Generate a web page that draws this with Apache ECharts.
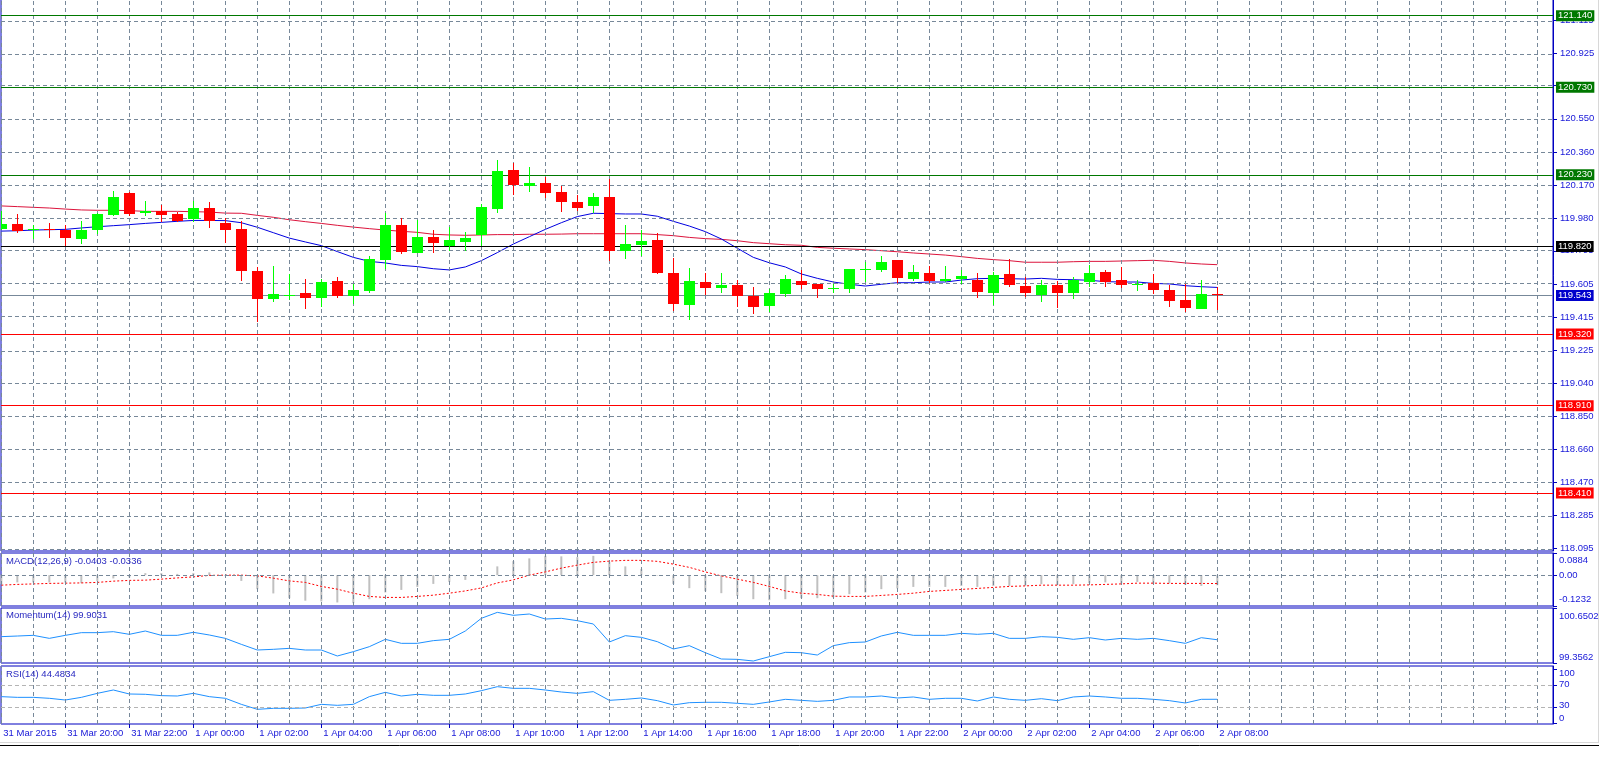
<!DOCTYPE html>
<html><head><meta charset="utf-8">
<script src="https://cdn.jsdelivr.net/npm/echarts@6/dist/echarts.min.js"></script>
<style>html,body{margin:0;padding:0;background:#fff}#c{width:1599px;height:771px}</style>
</head><body><div id="c"></div>
<script>
// M30 bars, bar index relative to 1 Apr 2015 00:00 (first bar = 31 Mar 18:00)
const firstBar = -12;
const opens  = [119.920,119.949,119.912,119.920,119.914,119.863,119.916,120.002,120.126,120.013,120.021,120.006,119.979,120.040,119.954,119.920,119.680,119.522,119.539,119.554,119.527,119.623,119.539,119.567,119.745,
119.943,119.783,119.874,119.823,119.846,119.886,120.034,120.257,120.166,120.183,120.132,120.074,120.053,120.103,119.794,119.829,119.857,119.668,119.487,119.617,119.585,119.600,119.539,119.482,119.550,
119.623,119.606,119.577,119.577,119.686,119.686,119.743,119.634,119.668,119.623,119.634,119.628,119.554,119.663,119.594,119.543,119.600,119.554,119.617,119.674,119.628,119.600,119.611,119.571,119.514,119.463,119.548];
const highs  = [120.023,120.006,119.941,119.954,119.941,119.966,120.010,120.137,120.130,120.080,120.057,120.017,120.080,120.074,119.983,119.966,119.703,119.708,119.663,119.634,119.634,119.646,119.606,119.766,120.010,
119.981,119.971,119.914,119.929,119.903,120.063,120.314,120.297,120.274,120.217,120.166,120.114,120.126,120.206,119.943,119.914,119.897,119.754,119.697,119.668,119.668,119.629,119.588,119.577,119.657,
119.686,119.608,119.606,119.693,119.731,119.766,119.745,119.714,119.708,119.708,119.686,119.668,119.674,119.748,119.646,119.628,119.623,119.646,119.714,119.686,119.703,119.628,119.663,119.600,119.606,119.628,119.590];
const lows   = [119.914,119.897,119.865,119.869,119.823,119.834,119.891,119.996,119.996,119.996,119.960,119.960,119.960,119.928,119.840,119.625,119.388,119.504,119.516,119.464,119.476,119.527,119.493,119.556,119.693,
119.775,119.780,119.783,119.796,119.794,119.823,120.013,120.114,120.132,120.097,120.017,120.023,120.011,119.737,119.748,119.766,119.663,119.453,119.400,119.543,119.554,119.476,119.436,119.447,119.533,
119.577,119.526,119.554,119.554,119.617,119.674,119.611,119.623,119.611,119.617,119.606,119.526,119.486,119.588,119.531,119.503,119.468,119.520,119.588,119.588,119.583,119.566,119.548,119.474,119.445,119.461,119.457];
const closes = [119.948,119.907,119.920,119.912,119.868,119.914,120.006,120.103,120.008,120.021,120.002,119.968,120.040,119.964,119.914,119.682,119.522,119.548,119.542,119.527,119.617,119.539,119.571,119.748,119.943,
119.790,119.874,119.840,119.857,119.869,120.046,120.252,120.172,120.183,120.126,120.074,120.040,120.103,119.794,119.834,119.851,119.668,119.493,119.623,119.585,119.602,119.539,119.476,119.554,119.634,
119.600,119.577,119.583,119.691,119.690,119.731,119.640,119.674,119.623,119.634,119.651,119.560,119.657,119.600,119.554,119.600,119.554,119.628,119.668,119.617,119.600,119.606,119.571,119.508,119.468,119.548,119.543];
const maFast = [119.908,119.910,119.914,119.916,119.918,119.926,119.933,119.939,119.945,119.952,119.958,119.964,119.969,119.969,119.968,119.956,119.930,119.899,119.868,119.846,119.825,119.791,119.758,119.735,119.726,
119.712,119.705,119.693,119.686,119.703,119.739,119.785,119.834,119.876,119.918,119.956,119.991,120.010,120.008,120.006,120.006,119.993,119.964,119.937,119.905,119.863,119.810,119.758,119.727,119.703,
119.663,119.638,119.617,119.604,119.594,119.604,119.613,119.613,119.617,119.617,119.628,119.636,119.638,119.636,119.634,119.638,119.632,119.630,119.627,119.619,119.617,119.617,119.609,119.606,119.596,119.590,119.586];
const maSlow = [120.052,120.048,120.044,120.040,120.034,120.029,120.027,120.027,120.025,120.021,120.021,120.021,120.019,120.017,120.011,120.010,119.998,119.987,119.973,119.962,119.952,119.941,119.931,119.922,119.914,
119.907,119.901,119.890,119.886,119.884,119.886,119.888,119.888,119.890,119.890,119.891,119.893,119.893,119.893,119.893,119.893,119.888,119.882,119.872,119.865,119.861,119.853,119.842,119.836,119.830,
119.827,119.815,119.810,119.806,119.802,119.796,119.790,119.783,119.777,119.771,119.762,119.752,119.745,119.739,119.730,119.730,119.730,119.733,119.735,119.735,119.737,119.739,119.741,119.735,119.726,119.720,119.716];
const macdMain = [-0.036,-0.029,-0.029,-0.029,-0.029,-0.032,-0.023,-0.013,-0.009,0.008,0.008,0.005,0.008,0.011,-0.003,-0.023,-0.056,-0.073,-0.092,-0.102,-0.105,-0.109,-0.112,-0.096,-0.069,
-0.059,-0.047,-0.035,-0.027,-0.019,-0.002,0.035,0.056,0.067,0.077,0.075,0.072,0.077,0.053,0.035,0.024,-0.002,-0.035,-0.052,-0.064,-0.072,-0.083,-0.096,-0.100,-0.096,
-0.092,-0.092,-0.089,-0.076,-0.069,-0.056,-0.053,-0.047,-0.047,-0.047,-0.043,-0.047,-0.043,-0.043,-0.043,-0.036,-0.040,-0.036,-0.032,-0.029,-0.032,-0.027,-0.033,-0.033,-0.039,-0.043,-0.0403];
const macdSignal = [-0.040,-0.037,-0.035,-0.033,-0.032,-0.031,-0.029,-0.024,-0.021,-0.020,-0.016,-0.011,-0.007,-0.001,0.000,0.000,-0.003,-0.012,-0.023,-0.029,-0.045,-0.056,-0.072,-0.085,-0.089,
-0.089,-0.085,-0.080,-0.072,-0.063,-0.051,-0.031,-0.019,0.000,0.013,0.028,0.040,0.051,0.056,0.059,0.059,0.055,0.044,0.031,0.013,-0.003,-0.016,-0.029,-0.045,-0.063,
-0.072,-0.077,-0.084,-0.085,-0.085,-0.081,-0.077,-0.072,-0.065,-0.061,-0.057,-0.053,-0.049,-0.045,-0.043,-0.040,-0.040,-0.040,-0.039,-0.037,-0.035,-0.032,-0.032,-0.033,-0.033,-0.033,-0.0336];
const momentum = [99.976,99.991,100.007,99.936,100.007,100.070,100.070,100.093,100.031,100.109,100.007,100.007,100.078,100.015,99.936,99.795,99.662,99.678,99.701,99.662,99.662,99.521,99.623,99.740,99.913,
99.819,99.819,99.882,99.913,100.109,100.407,100.548,100.478,100.509,100.391,100.407,100.352,100.274,99.850,99.999,99.960,99.858,99.686,99.764,99.599,99.450,99.442,99.403,99.505,99.607,
99.599,99.544,99.764,99.835,99.850,99.992,100.078,100.007,100.007,100.007,100.054,100.031,100.054,99.936,99.936,99.976,99.960,99.913,99.952,99.897,99.936,99.913,99.936,99.882,99.819,99.952,99.9031];
const rsi = [49.4,48.1,48.1,46.3,43.1,48.1,55.6,61.9,54.4,53.8,51.3,50.6,55.6,49.4,46.3,35.0,25.6,27.5,27.5,28.1,35.0,33.1,35.0,49.4,57.5,
50.6,53.8,51.9,51.9,54.4,60.6,68.1,65.0,65.0,61.9,58.1,55.6,58.8,42.5,44.4,46.9,41.9,33.8,38.1,38.8,38.8,36.9,35.0,39.4,44.4,
42.5,40.6,42.5,48.8,48.8,50.6,46.9,48.8,44.4,46.3,46.3,41.3,48.8,44.4,42.5,45.6,41.9,48.8,50.6,48.8,46.3,46.3,44.4,41.9,37.5,44.4,44.4834];

const timeLabels = ['31 Mar 2015','31 Mar 20:00','31 Mar 22:00','1 Apr 00:00','1 Apr 02:00','1 Apr 04:00','1 Apr 06:00','1 Apr 08:00','1 Apr 10:00','1 Apr 12:00','1 Apr 14:00','1 Apr 16:00','1 Apr 18:00','1 Apr 20:00','1 Apr 22:00','2 Apr 00:00','2 Apr 02:00','2 Apr 04:00','2 Apr 06:00','2 Apr 08:00'];
const priceTicks = ['118.095','118.285','118.470','118.660','118.850','119.040','119.225','119.415','119.605','119.795','119.980','120.170','120.360','120.550','120.740','120.925','121.115'];
const levelValues = [121.140, 120.730, 120.230, 119.820, 119.543, 119.320, 118.910, 118.410];
const levelKinds  = ['res','res','res','pivot','bid','sup','sup','sup'];
const macdTicks = ['0.0884','0.00','-0.1232'];
const momTicks = ['100.6502','99.3562'];
const rsiTicks = ['100','70','30','0'];

// ---------- styles / layout ----------
const FONT = 'Liberation Sans';
const AX = '#0000c0', TXT = '#1616d8', GRIDC = '#778899';
const kindStyle = {
  res:{line:'#007800', bg:'#007800'}, pivot:{line:'#000000', bg:'#000000'},
  bid:{line:'#778899', bg:'#0000cc'}, sup:{line:'#ff0000', bg:'#ff0000'}
};
const X = i => i + firstBar;
const xMin = -12.02, xMax = 84.98;
const L = 1, W = 1552;
const grids = [
  {left:L, top:-1,  width:W, height:552},
  {left:L, top:553, width:W, height:53},
  {left:L, top:608, width:W, height:55},
  {left:L, top:666, width:W, height:58}
];
const vLines = []; for (let n = -12; n <= 84; n += 2) vLines.push(n);
const closest = (arr, v) => { let b = 0; arr.forEach((a, i) => { if (Math.abs(a - v) < Math.abs(arr[b] - v)) b = i; }); return b; };

const priceVals = priceTicks.map(Number);
const macdVals = macdTicks.map(Number), momVals = momTicks.map(Number), rsiVals = rsiTicks.map(Number);
const lab = {color:TXT, fontSize:9.5, fontFamily:FONT};

function subY(gi, min, max, vals, texts, keys, rich) {
  return {gridIndex:gi, type:'value', position:'right', min, max,
    axisLine:{show:true, onZero:false, lineStyle:{color:AX}},
    axisTick:{show:true, length:4, lineStyle:{color:AX}, customValues: vals},
    splitLine:{show:false},
    axisLabel:Object.assign({show:true, margin:6, customValues: vals,
      formatter: v => { const i = closest(vals, v); return '{' + keys[i] + '|' + texts[i] + '}'; },
      rich}, lab)};
}
const mk = (p) => Object.assign({}, lab, p);

const xAxes = grids.map((g, gi) => ({
  gridIndex:gi, type:'value', min:xMin, max:xMax, show: gi === 3, position:'bottom',
  axisLine:{show:false, onZero:false}, splitLine:{show:false},
  axisTick:{show: gi === 3, length:4, lineStyle:{color:AX}, customValues: timeLabels.slice(1).map((t, i) => firstBar + 4 * (i + 1))},
  axisLabel:Object.assign({show: gi === 3, margin:4, align:'left', padding:[0,0,0,2],
    customValues: timeLabels.map((t, i) => firstBar + 4 * i),
    formatter: v => timeLabels[Math.round((v - firstBar) / 4)] || ''}, lab)
}));

const yAxes = [
  {gridIndex:0, type:'value', position:'right', min:118.079, max:121.2351,
   axisLine:{show:true, onZero:false, lineStyle:{color:AX}},
   axisTick:{show:true, length:4, lineStyle:{color:AX}, customValues: priceVals},
   splitLine:{show:false},
   axisLabel:Object.assign({show:true, margin:7, customValues: priceVals,
     formatter: v => priceTicks[closest(priceVals, v)]}, lab)},
  subY(1, -0.1232, 0.0884, macdVals, macdTicks, ['t','m','b'],
     {t:mk({padding:[15,0,0,0]}), m:mk({}), b:mk({padding:[0,0,13,0]})}),
  subY(2, 99.3562, 100.6502, momVals, momTicks, ['t','b'],
     {t:mk({padding:[16,0,0,0]}), b:mk({padding:[0,0,11,0]})}),
  subY(3, -1.9, 106.9, rsiVals, rsiTicks, ['t','m','m','b'],
     {t:mk({padding:[7,0,0,0]}), m:mk({padding:[0,0,3,0]}), b:mk({padding:[0,0,9,0]})})
];

const dash = {color:GRIDC, type:[4,3], width:1};
function gridLineSeries(gi, extra) {
  const data = vLines.map(n => ({xAxis:n}));
  return {type:'line', xAxisIndex:gi, yAxisIndex:gi, data:[], z:1, silent:true,
    markLine:{silent:true, symbol:['none','none'], animation:false, label:{show:false},
      lineStyle:dash, data: data.concat(extra || [])}};
}

const series = [
  gridLineSeries(0, priceVals.map(v => ({yAxis:v}))),
  gridLineSeries(1, [{yAxis:0}]),
  gridLineSeries(2),
  gridLineSeries(3, [{yAxis:70, lineStyle:{color:'#b4b4b4', type:[4,3]}}, {yAxis:30, lineStyle:{color:'#b4b4b4', type:[4,3]}}]),
  {type:'line', xAxisIndex:0, yAxisIndex:0, data:[], z:2, silent:true,
   markLine:{silent:true, symbol:['none','none'], animation:false,
     data: levelValues.map((v, i) => {
       const s = kindStyle[levelKinds[i]];
       return {yAxis:v, lineStyle:{color:s.line, type:'solid', width:1},
         label:{show:true, position:'end', distance:3, formatter: v.toFixed(3),
           backgroundColor:s.bg, color:'#ffffff', fontSize:9.5, fontFamily:FONT, padding:[1,2,0,2]}};
     })}},
  {type:'line', xAxisIndex:0, yAxisIndex:0, z:3, showSymbol:false, silent:true,
   data: maSlow.map((v, i) => [X(i), v]), lineStyle:{color:'#dc143c', width:1}},
  {type:'line', xAxisIndex:0, yAxisIndex:0, z:3, showSymbol:false, silent:true,
   data: maFast.map((v, i) => [X(i), v]), lineStyle:{color:'#0000e0', width:1}},
  {type:'custom', xAxisIndex:0, yAxisIndex:0, z:5, clip:true, silent:true,
   data: opens.map((o, i) => [X(i), o, closes[i], lows[i], highs[i]]),
   encode:{x:0, y:[1,2,3,4]},
   renderItem(params, api) {
     const x = api.value(0), o = api.value(1), c = api.value(2), lo = api.value(3), hi = api.value(4);
     const po = api.coord([x, o]), pc = api.coord([x, c]), pl = api.coord([x, lo]), ph = api.coord([x, hi]);
     const col = c >= o ? '#00ff00' : '#ff0000';
     const cx = Math.round(po[0] - 0.5);
     const top = Math.round(Math.min(po[1], pc[1])), bot = Math.round(Math.max(po[1], pc[1]));
     const wt = Math.round(ph[1]), wb = Math.round(pl[1]);
     return {type:'group', children:[
       {type:'rect', shape:{x:cx, y:wt, width:1, height:Math.max(1, wb - wt)}, style:{fill:col}},
       {type:'rect', shape:{x:cx - 5, y:top, width:11, height:Math.max(1, bot - top)}, style:{fill:col}}
     ]};
   }},
  {type:'bar', xAxisIndex:1, yAxisIndex:1, z:3, silent:true, barWidth:2,
   data: macdMain.map((v, i) => [X(i), v]), itemStyle:{color:'#c0c0c0'}},
  {type:'line', xAxisIndex:1, yAxisIndex:1, z:4, showSymbol:false, silent:true,
   data: macdSignal.map((v, i) => [X(i), v]), lineStyle:{color:'#ff0000', width:1, type:[2,2]}},
  {type:'line', xAxisIndex:2, yAxisIndex:2, z:3, showSymbol:false, silent:true,
   data: momentum.map((v, i) => [X(i), v]), lineStyle:{color:'#1e90ff', width:1}},
  {type:'line', xAxisIndex:3, yAxisIndex:3, z:3, showSymbol:false, silent:true,
   data: rsi.map((v, i) => [X(i), v]), lineStyle:{color:'#1e90ff', width:1}}
];

const titleStyle = {fontSize:9.5, fontWeight:'normal', color:'#2828c0', fontFamily:FONT};
const option = {
  animation:false,
  backgroundColor:'#ffffff',
  title:[
    {text:'MACD(12,26,9) -0.0403 -0.0336', left:6, top:556, padding:0, textStyle:titleStyle},
    {text:'Momentum(14) 99.9031', left:6, top:610, padding:0, textStyle:titleStyle},
    {text:'RSI(14) 44.4834', left:6, top:669, padding:0, textStyle:titleStyle}
  ],
  grid: grids.map(g => Object.assign({show:true, borderColor:AX, borderWidth:1, backgroundColor:'transparent', containLabel:false, outerBoundsMode:'none'}, g)),
  xAxis: xAxes,
  yAxis: yAxes,
  series,
  graphic:[
    {type:'line', shape:{x1:0, y1:742.5, x2:1599, y2:742.5}, style:{stroke:'#d8d8d8', lineWidth:1}, silent:true},
    {type:'line', shape:{x1:0, y1:745.5, x2:1599, y2:745.5}, style:{stroke:'#000000', lineWidth:1}, silent:true},
    {type:'line', shape:{x1:1598.5, y1:0, x2:1598.5, y2:742}, style:{stroke:'#d8d8d8', lineWidth:1}, silent:true}
  ]
};
const chart = echarts.init(document.getElementById('c'), null, {renderer:'canvas'});
chart.setOption(option);
</script></body></html>
